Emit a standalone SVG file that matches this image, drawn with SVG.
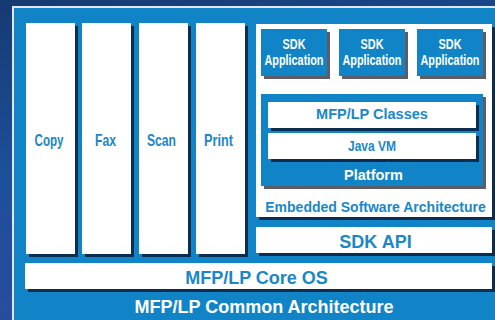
<svg xmlns="http://www.w3.org/2000/svg" width="495" height="320" viewBox="0 0 495 320">
<defs>
<linearGradient id="bg" x1="0" y1="0" x2="0.3" y2="1">
<stop offset="0" stop-color="#163a72"/>
<stop offset="0.5" stop-color="#1d4f9a"/>
<stop offset="1" stop-color="#2a4c9e"/>
</linearGradient>
</defs>
<style>
.panel{fill:#1184c8}
.w{fill:#ffffff}
.sd{fill:#0b2d4f}
.sg{fill:#5d5d68}
.b{fill:#1184c8}
text{font-family:"Liberation Sans",Arial,sans-serif;font-weight:bold;text-anchor:middle}
.lb{fill:#1a87c8}
.lw{fill:#ffffff}
</style>
<rect x="0" y="0" width="495" height="320" fill="url(#bg)"/>
<rect x="12" y="6" width="483" height="314" fill="#dfe7f0"/>
<rect x="14" y="8" width="481" height="312" class="panel"/>

<g id="copy">
<rect x="29" y="26" width="49" height="231" class="sd"/>
<rect x="26" y="23" width="49" height="231" class="w"/>
<text x="49" y="146" font-size="17" class="lb" textLength="29" lengthAdjust="spacingAndGlyphs">Copy</text>
</g>
<g id="fax">
<rect x="85" y="26" width="49" height="231" class="sd"/>
<rect x="82" y="23" width="49" height="231" class="w"/>
<text x="105.5" y="146" font-size="17" class="lb" textLength="21" lengthAdjust="spacingAndGlyphs">Fax</text>
</g>
<g id="scan">
<rect x="142" y="26" width="49" height="231" class="sd"/>
<rect x="139" y="23" width="49" height="231" class="w"/>
<text x="161.5" y="146" font-size="17" class="lb" textLength="29" lengthAdjust="spacingAndGlyphs">Scan</text>
</g>
<g id="print">
<rect x="199" y="26" width="49" height="231" class="sd"/>
<rect x="196" y="23" width="49" height="231" class="w"/>
<text x="218.5" y="146" font-size="17" class="lb" textLength="29" lengthAdjust="spacingAndGlyphs">Print</text>
</g>

<g id="embedded">
<rect x="259" y="27" width="236" height="193" class="sd"/>
<rect x="256" y="24" width="236" height="193" class="w"/>
<text x="375.5" y="212" font-size="14" class="lb">Embedded Software Architecture</text>
</g>

<g id="sdk-app-1">
<rect x="264" y="32" width="66" height="47" class="sg"/>
<rect x="261" y="29" width="66" height="47" class="b"/>
<text x="294" y="49" font-size="14.5" class="lw" textLength="23" lengthAdjust="spacingAndGlyphs">SDK</text>
<text x="294" y="65" font-size="14.5" class="lw" textLength="59" lengthAdjust="spacingAndGlyphs">Application</text>
</g>
<g id="sdk-app-2">
<rect x="342" y="32" width="66" height="47" class="sg"/>
<rect x="339" y="29" width="66" height="47" class="b"/>
<text x="372" y="49" font-size="14.5" class="lw" textLength="23" lengthAdjust="spacingAndGlyphs">SDK</text>
<text x="372" y="65" font-size="14.5" class="lw" textLength="59" lengthAdjust="spacingAndGlyphs">Application</text>
</g>
<g id="sdk-app-3">
<rect x="420" y="32" width="66" height="47" class="sg"/>
<rect x="417" y="29" width="66" height="47" class="b"/>
<text x="450" y="49" font-size="14.5" class="lw" textLength="23" lengthAdjust="spacingAndGlyphs">SDK</text>
<text x="450" y="65" font-size="14.5" class="lw" textLength="59" lengthAdjust="spacingAndGlyphs">Application</text>
</g>

<g id="platform">
<rect x="264" y="97" width="222" height="92" class="sg"/>
<rect x="261" y="94" width="222" height="92" class="b"/>
<text x="373.5" y="180" font-size="14.5" class="lw">Platform</text>
</g>
<g id="mfp-classes">
<rect x="271" y="105" width="208" height="26" class="sd"/>
<rect x="268" y="102" width="208" height="26" class="w"/>
<text x="372" y="119" font-size="14.5" class="lb">MFP/LP Classes</text>
</g>
<g id="java-vm">
<rect x="271" y="136" width="208" height="26" class="sd"/>
<rect x="268" y="133" width="208" height="26" class="w"/>
<text x="372" y="151" font-size="15" class="lb" textLength="48" lengthAdjust="spacingAndGlyphs">Java VM</text>
</g>

<g id="sdk-api">
<rect x="259" y="230" width="236" height="26" class="sd"/>
<rect x="256" y="227" width="236" height="26" class="w"/>
<text x="375.5" y="248" font-size="18" class="lb">SDK API</text>
</g>

<g id="core-os">
<rect x="28" y="266" width="467" height="26" class="sd"/>
<rect x="25" y="263" width="467" height="26" class="w"/>
<text x="256.5" y="284" font-size="18" class="lb">MFP/LP Core OS</text>
</g>

<g id="common-architecture">
<text x="264" y="313" font-size="18" class="lw">MFP/LP Common Architecture</text>
</g>
<g id="connectors"/>
</svg>
